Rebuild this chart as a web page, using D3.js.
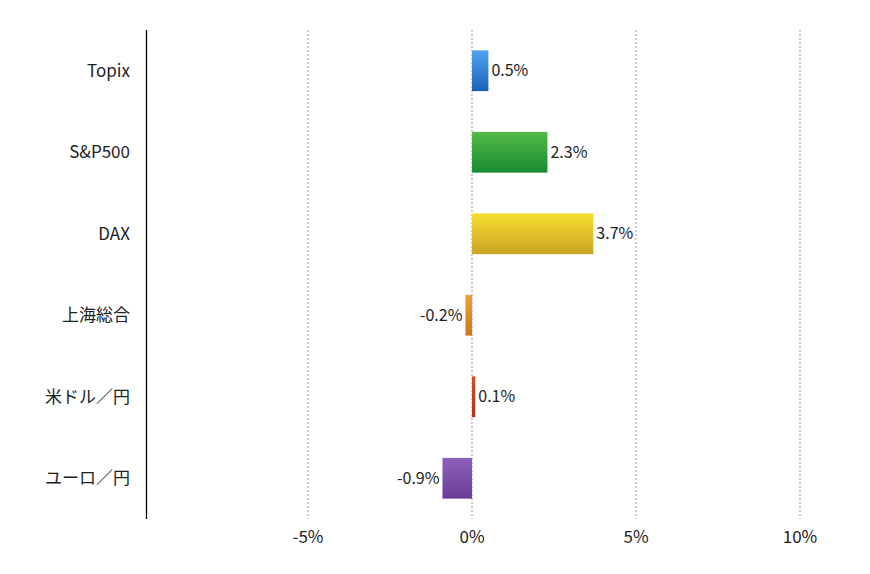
<!DOCTYPE html>
<html>
<head>
<meta charset="utf-8">
<script src="https://cdn.jsdelivr.net/npm/d3@7"></script>
<style>
  body { margin: 0; background: #fff; }
  text { font-family: "Noto Sans CJK JP", "Noto Sans", sans-serif; fill: #222; }
</style>
</head>
<body>
<svg width="870" height="574"></svg>
<script>
const categories = ["Topix", "S&P500", "DAX", "上海総合", "米ドル／円", "ユーロ／円"];
const values = [0.5, 2.3, 3.7, -0.2, 0.1, -0.9];
const tickValues = [-5, 0, 5, 10];
const colors = [
  ["#4ea3ec", "#1c60b8"],
  ["#55bb48", "#178a32"],
  ["#f8de30", "#c8a424"],
  ["#f2a036", "#d0741a"],
  ["#d0502c", "#a83418"],
  ["#8e62bc", "#6a3c98"]
];

const svg = d3.select("svg");
const x = d3.scaleLinear().domain([-10, 10]).range([144, 800]);
const y = d3.scaleBand().domain(categories).range([30, 519]).paddingInner(0.5).paddingOuter(0.25);

const defs = svg.append("defs");
colors.forEach((c, i) => {
  const g = defs.append("linearGradient").attr("id", "g" + i)
    .attr("x1", 0).attr("y1", 0).attr("x2", 0).attr("y2", 1);
  g.append("stop").attr("offset", "0%").attr("stop-color", c[0]);
  g.append("stop").attr("offset", "100%").attr("stop-color", c[1]);
});

// grid
svg.append("g")
  .selectAll("line")
  .data(tickValues)
  .join("line")
  .attr("x1", d => x(d)).attr("x2", d => x(d))
  .attr("y1", 30).attr("y2", 519)
  .attr("stroke", "#9a9a9a")
  .attr("stroke-width", 1)
  .attr("stroke-dasharray", "2,2");

// tick labels
svg.append("g")
  .selectAll("text")
  .data(tickValues)
  .join("text")
  .attr("x", d => x(d))
  .attr("y", 543)
  .attr("text-anchor", "middle")
  .attr("font-size", 17)
  .text(d => d + "%");

// y axis line
svg.append("line")
  .attr("x1", 146.5).attr("x2", 146.5)
  .attr("y1", 30).attr("y2", 519)
  .attr("stroke", "#000").attr("stroke-width", 1.3);

// category labels
svg.append("g")
  .selectAll("text")
  .data(categories)
  .join("text")
  .attr("x", 130)
  .attr("y", d => y(d) + y.bandwidth() / 2)
  .attr("dy", "0.35em")
  .attr("text-anchor", "end")
  .attr("font-size", 17)
  .text(d => d);

// bars
svg.append("g")
  .selectAll("rect")
  .data(values)
  .join("rect")
  .attr("x", d => x(Math.min(0, d)))
  .attr("width", d => Math.abs(x(d) - x(0)))
  .attr("y", (d, i) => y(categories[i]))
  .attr("height", y.bandwidth())
  .attr("fill", (d, i) => `url(#g${i})`);

// value labels
svg.append("g")
  .selectAll("text")
  .data(values)
  .join("text")
  .attr("x", d => d >= 0 ? x(d) + 3 : x(d) - 3)
  .attr("y", (d, i) => y(categories[i]) + y.bandwidth() / 2)
  .attr("dy", "0.35em")
  .attr("text-anchor", d => d >= 0 ? "start" : "end")
  .attr("font-size", 16)
  .text(d => d.toFixed(1) + "%");
</script>
</body>
</html>
